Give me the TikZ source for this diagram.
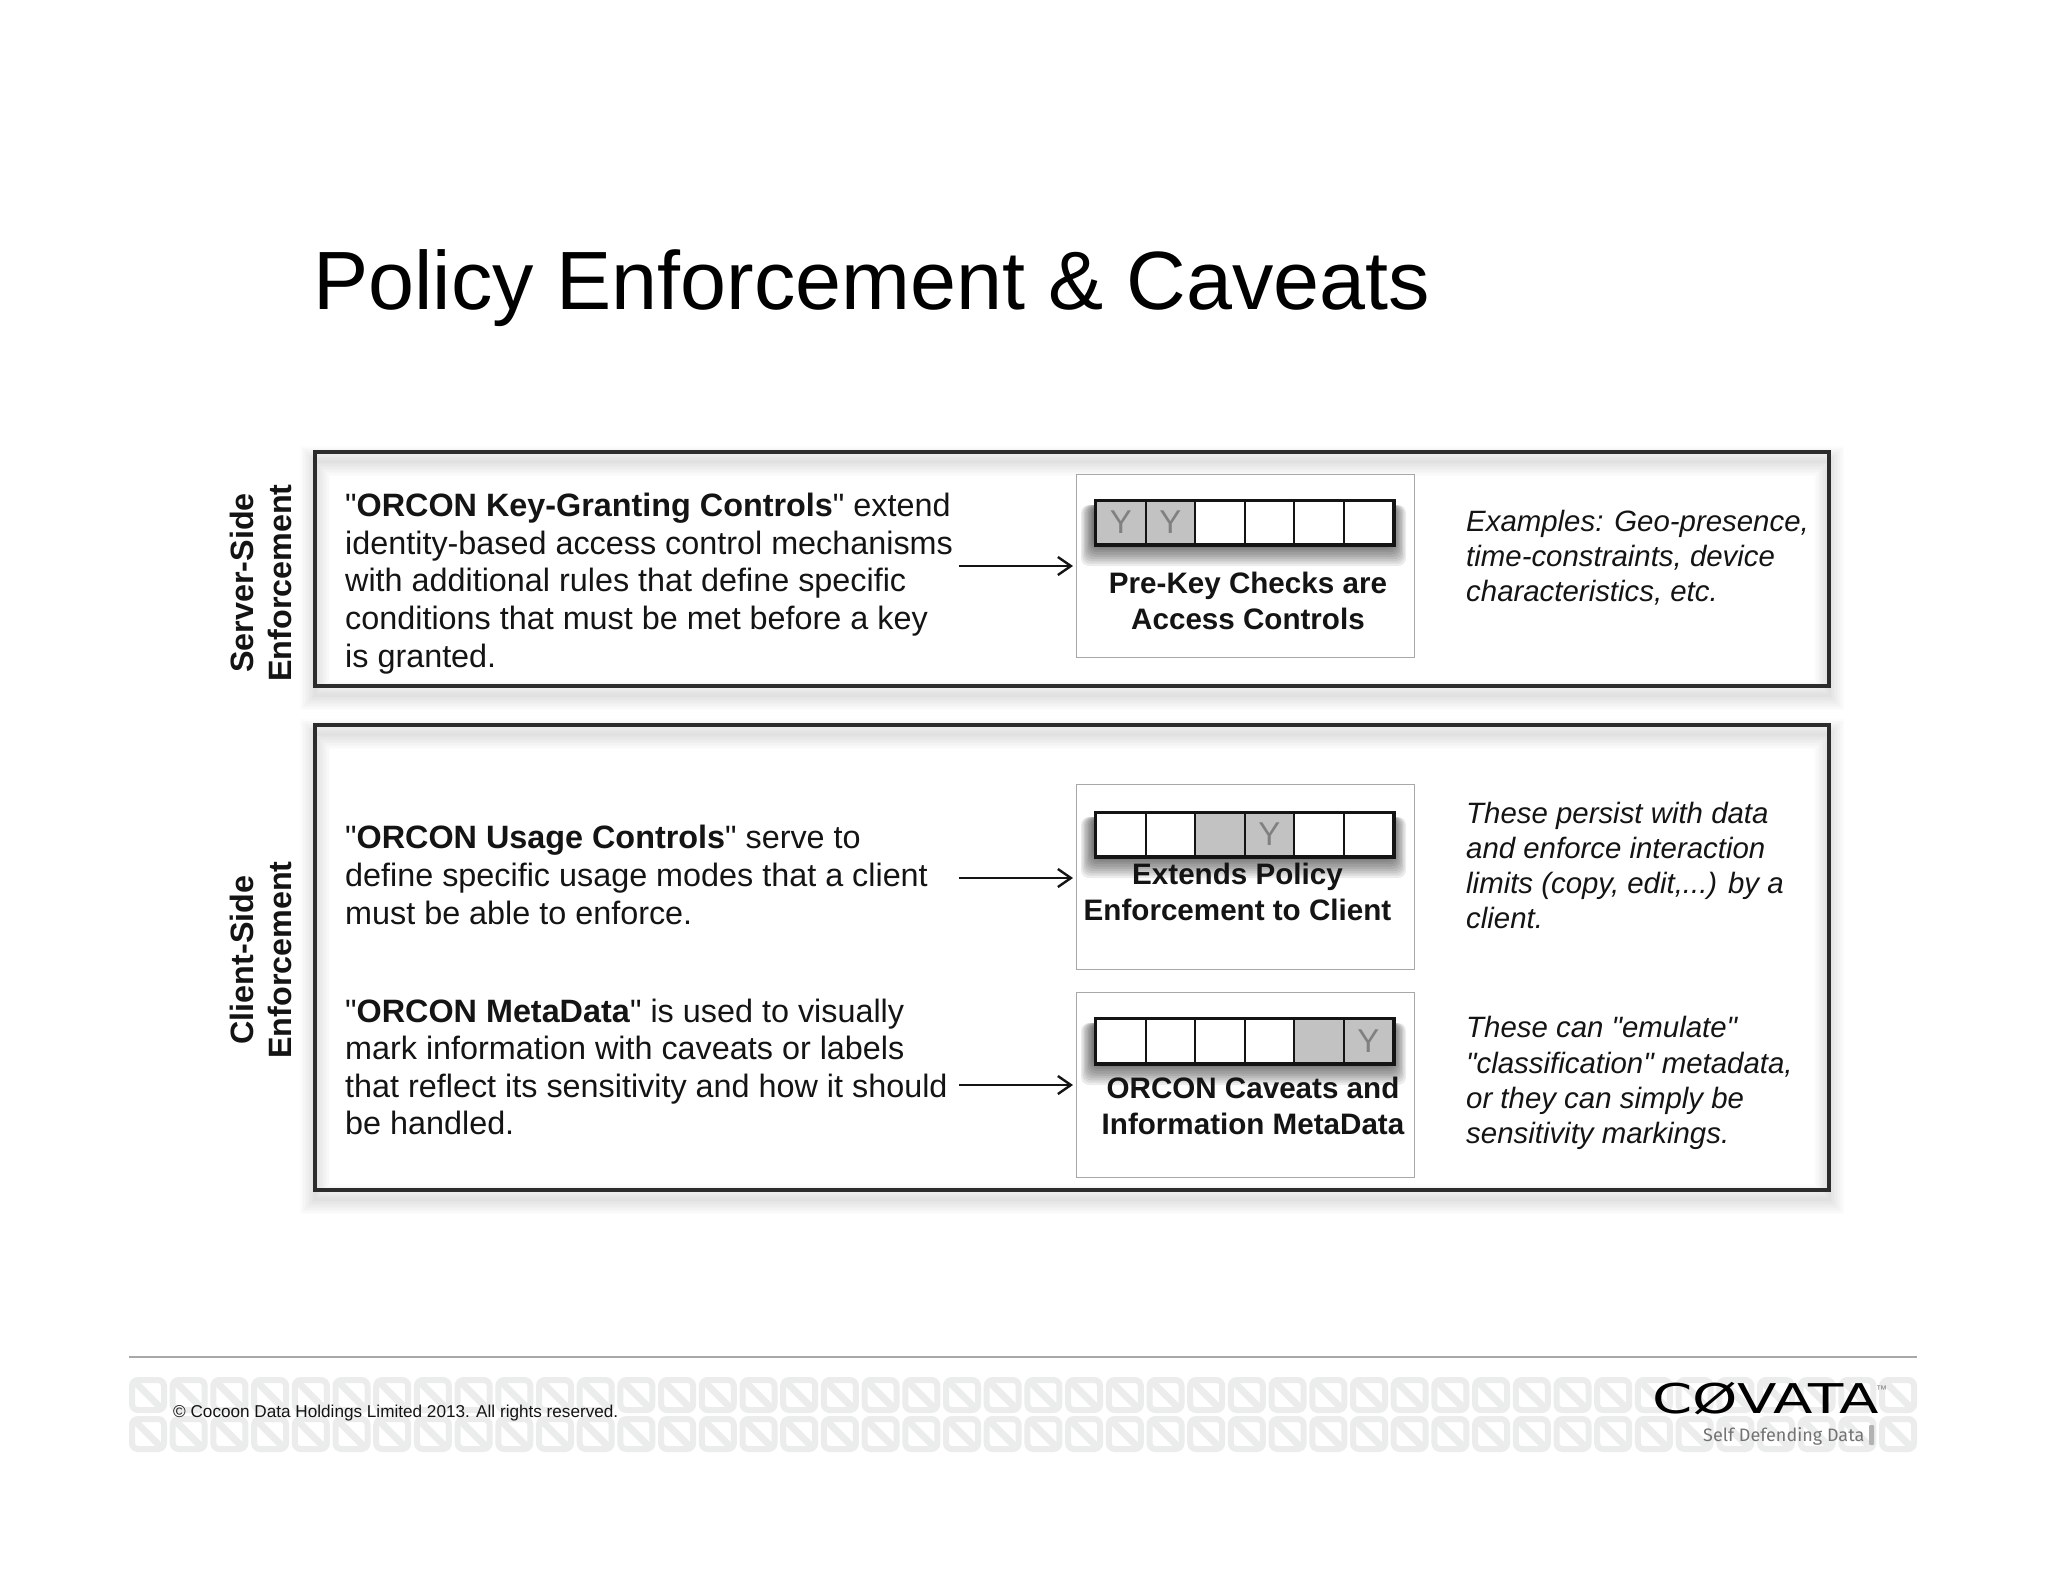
\documentclass[tikz,border=0pt]{standalone}
\usepackage{fontspec}
\setmainfont{Liberation Sans}
\newfontfamily\logofont{DejaVu Sans}
\newfontfamily\tagfont{Fira Sans}
\usetikzlibrary{arrows.meta}
\usetikzlibrary{positioning}
\definecolor{ink}{HTML}{141414}
\definecolor{cellgray}{HTML}{C2C2C2}
\definecolor{framegray}{HTML}{A8A8A8}
\definecolor{tilegray}{HTML}{EBEDED}
\tikzset{
  bodytext/.style={align=left,anchor=west,inner sep=0pt,text=ink,font=\fontsize{32.35}{37.6}\selectfont},
  sidetext/.style={align=left,anchor=west,inner sep=0pt,text=ink,font=\fontsize{29.4}{35.2}\selectfont\itshape},
  boxlabel/.style={align=center,inner sep=0pt,text=ink,font=\fontsize{29.6}{35.5}\selectfont\bfseries},
  sidelabel/.style={align=center,inner sep=0pt,rotate=90,text=ink,font=\fontsize{32.3}{38.5}\selectfont\bfseries},
  cell/.style={draw=ink,line width=2.2pt,anchor=north west,inner sep=0pt,minimum width=49.5pt,text=gray,font=\fontsize{33}{33}\selectfont},
  panel/.style={draw=ink!90,line width=3.3pt},
  sidebox/.style={draw=framegray,line width=1.4pt,fill=white},
  tile/.style={draw=tilegray,line width=6pt,rounded corners=6pt},
}
\begin{document}
\begin{tikzpicture}[x=1pt,y=-1pt]
  \useasboundingbox (0,0) rectangle (2048,1582);
  \fill[white] (0,0) rectangle (2048,1582);
  \node[anchor=base west,inner sep=0pt,font=\fontsize{82.7}{90}\selectfont] (title) at (313,309.5) {Policy Enforcement \& Caveats};
  % soft shadows of the panels
  \foreach \i in {1,...,10} {
    \draw[black,opacity=0.012,line width=\i*3pt] (315,461) rectangle (1829,695);
    \draw[black,opacity=0.012,line width=\i*3pt] (315,734) rectangle (1829,1199);
  }
  \node[sidebox,minimum width=338pt,minimum height=183pt,anchor=north west] (srvBox) at (1076,474) {};
  \node[sidebox,minimum width=338pt,minimum height=185pt,anchor=north west] (useBox) at (1076,784) {};
  \node[sidebox,minimum width=338pt,minimum height=185pt,anchor=north west] (metaBox) at (1076,992) {};
  \draw[panel] (315,452) rectangle (1829,686);
  \draw[panel] (315,725) rectangle (1829,1190);
  % shadows of the slot bars
  \foreach \i in {1,...,10} {
    \fill[black,opacity=0.075,rounded corners=8pt] (1095-\i*1.4,505) rectangle (1392+\i*1.4,543+\i*2.3);
    \fill[black,opacity=0.075,rounded corners=8pt] (1095-\i*1.4,817) rectangle (1392+\i*1.4,855+\i*2.3);
    \fill[black,opacity=0.075,rounded corners=8pt] (1095-\i*1.4,1023) rectangle (1392+\i*1.4,1062+\i*2.3);
  }
  % slot bars
  \foreach \n/\col/\txt in {0/cellgray/Y,1/cellgray/Y,2/white/{},3/white/{},4/white/{},5/white/{}} {
    \node[cell,fill=\col,minimum height=43pt] (srvCell\n) at (1095+\n*49.5,500) {\txt};
  }
  \foreach \n/\col/\txt in {0/white/{},1/white/{},2/cellgray/{},3/cellgray/Y,4/white/{},5/white/{}} {
    \node[cell,fill=\col,minimum height=43pt] (useCell\n) at (1095+\n*49.5,812) {\txt};
  }
  \foreach \n/\col/\txt in {0/white/{},1/white/{},2/white/{},3/white/{},4/cellgray/{},5/cellgray/Y} {
    \node[cell,fill=\col,minimum height=44pt] (metaCell\n) at (1095+\n*49.5,1018) {\txt};
  }
  \draw[ink,line width=3pt] (srvCell0.north west) rectangle (srvCell5.south east);
  \draw[ink,line width=3pt] (useCell0.north west) rectangle (useCell5.south east);
  \draw[ink,line width=3pt] (metaCell0.north west) rectangle (metaCell5.south east);
  \node[sidelabel] (srvSide) at (261,583) {Server-Side\\Enforcement};
  \node[sidelabel] (cliSide) at (261,960) {Client-Side\\Enforcement};
  \node[bodytext] (srvText) at (345,583.5) {\textquotedbl\textbf{ORCON Key-Granting Controls}\textquotedbl{} extend\\identity-based access control mechanisms\\with additional rules that define specific\\conditions that must be met before a key\\is granted.};
  \node[bodytext] (useText) at (345,875) {\textquotedbl\textbf{ORCON Usage Controls}\textquotedbl{} serve to\\define specific usage modes that a client\\must be able to enforce.};
  \node[bodytext] (metaText) at (345,1067) {\textquotedbl\textbf{ORCON MetaData}\textquotedbl{} is used to visually\\mark information with caveats or labels\\that reflect its sensitivity and how it should\\be handled.};
  \node[boxlabel] (srvLabel) at (1248,601) {Pre-Key Checks are\\Access Controls};
  \node[boxlabel] (useLabel) at (1237.5,892) {Extends Policy\\Enforcement to Client};
  \node[boxlabel] (metaLabel) at (1253,1106) {ORCON Caveats and\\Information MetaData};
  \node[sidetext] (srvNote) at (1466,558) {Examples: Geo-presence,\\time-constraints, device\\characteristics, etc.};
  \node[sidetext] (useNote) at (1466,865.5) {These persist with data\\and enforce interaction\\limits (copy, edit,...) by a\\client.};
  \node[sidetext] (metaNote) at (1466,1083) {These can \textquotedbl emulate\textquotedbl\\\textquotedbl classification\textquotedbl{} metadata,\\or they can simply be\\sensitivity markings.};
  \coordinate (srvTail) at (959,566);
  \coordinate (useTail) at (959,878);
  \coordinate (metaTail) at (959,1085);
  \begin{scope}[every edge/.style={draw=ink,line width=2.4pt,-{Straight Barb[length=13pt,width=18pt,line width=2.4pt]},shorten >=3pt}]
  \path (srvTail) edge (srvTail -| srvBox.west);
  \path (useTail) edge (useTail -| useBox.west);
  \path (metaTail) edge (metaTail -| metaBox.west);
  \end{scope}
  % footer
  \foreach \n in {0,...,43} {
    \foreach \ytop in {1380,1419} {
      \draw[tile] (132+\n*40.7,\ytop) rectangle ++(32,30);
      \draw[tilegray,line width=7pt] (135+\n*40.7,\ytop+2) -- ++(26,26);
    }
  }
  \draw[framegray,line width=2.4pt] (129,1357) -- (1917,1357);
  \node[anchor=base west,inner sep=0pt,text=ink,font=\fontsize{17.15}{20}\selectfont] (copyNote) at (173,1417) {© Cocoon Data Holdings Limited 2013. All rights reserved.};
  \node[anchor=west,inner sep=0pt,text=black,font=\logofont\fontsize{41}{41}\selectfont] (logo) at (1652,1399) {\scalebox{1.407}[1]{CØVATA}};
  \node[anchor=south west,inner sep=0pt,text=gray,font=\fontsize{11}{11}\selectfont] (logoMark) at (1876,1394) {™};
  \node[anchor=west,inner sep=0pt,text=gray!90!black,font=\tagfont\fontsize{18}{18}\selectfont] (tagLine) at (1703,1436) {Self Defending Data};
  \fill[gray!60,rounded corners=1pt] (1869,1425) rectangle (1874,1445);
\end{tikzpicture}
\end{document}
